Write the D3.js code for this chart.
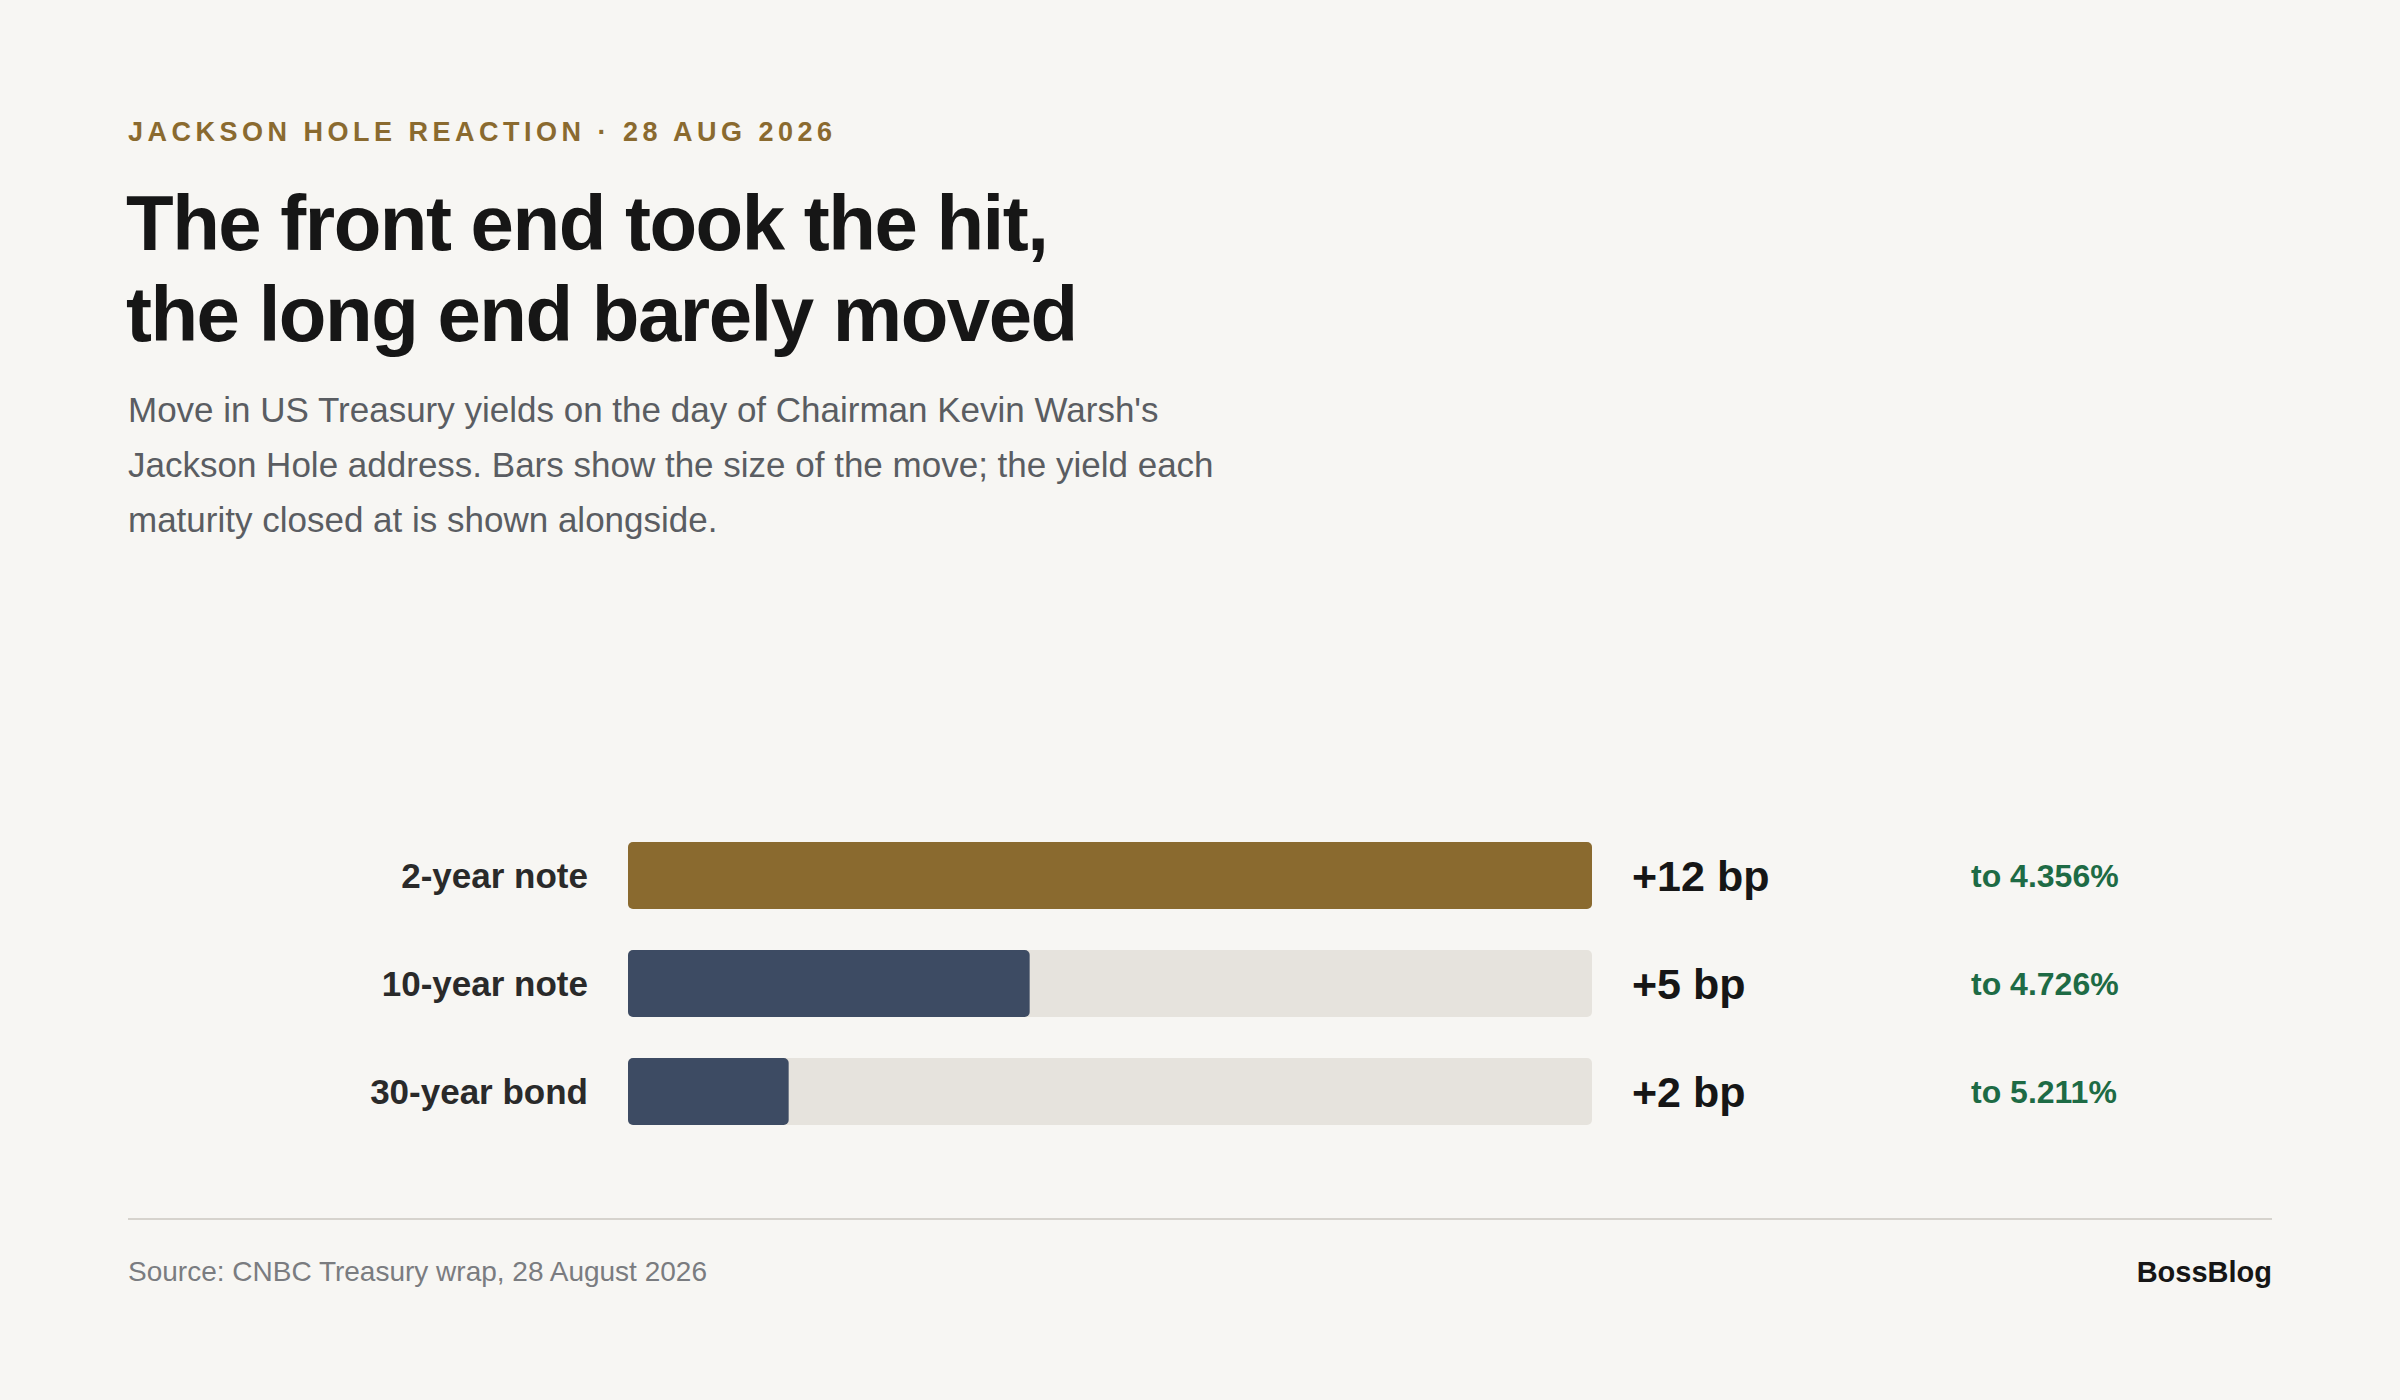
<!DOCTYPE html>
<html>
<head>
<meta charset="utf-8">
<script src="https://cdn.jsdelivr.net/npm/d3@7"></script>
<style>
  html, body { margin: 0; padding: 0; background: #f7f6f3; }
  svg { display: block; font-family: "Liberation Sans", Arial, Helvetica, sans-serif; }
</style>
</head>
<body>
<svg id="chart" width="2400" height="1400"></svg>
<script>
const maturities = ["2-year note", "10-year note", "30-year bond"];
const moveBp = [12, 5, 2];
const closeYield = ["4.356%", "4.726%", "5.211%"];
const barColors = ["#8a6a2f", "#3d4b63", "#3d4b63"];

const svg = d3.select("#chart");
svg.append("rect").attr("width", 2400).attr("height", 1400).attr("fill", "#f7f6f3");

// header
svg.append("text").attr("x", 128).attr("y", 141)
  .attr("font-size", 27).attr("font-weight", 700).attr("letter-spacing", 4.5)
  .attr("fill", "#8a6a2f").text("JACKSON HOLE REACTION · 28 AUG 2026");

const title = ["The front end took the hit,", "the long end barely moved"];
svg.selectAll(".title").data(title).join("text")
  .attr("x", 126).attr("y", (d, i) => 250 + i * 91)
  .attr("font-size", 78).attr("font-weight", 700).attr("letter-spacing", -1.5)
  .attr("fill", "#161616").text(d => d);

const sub = [
  "Move in US Treasury yields on the day of Chairman Kevin Warsh's",
  "Jackson Hole address. Bars show the size of the move; the yield each",
  "maturity closed at is shown alongside."
];
svg.selectAll(".sub").data(sub).join("text")
  .attr("x", 128).attr("y", (d, i) => 422 + i * 55)
  .attr("font-size", 35).attr("fill", "#5a5d62").text(d => d);

// bars
const x = d3.scaleLinear().domain([0, 12]).range([628, 1592]);
const y = d3.scaleBand().domain(maturities).range([842, 1234]).paddingInner(0.38).paddingOuter(0)
  .align(0);
// keep bar height ~67
const bh = 67, step = 108;
const rowY = d => 842 + maturities.indexOf(d) * step;

const rows = svg.selectAll(".row").data(maturities).join("g")
  .attr("transform", d => `translate(0,${rowY(d)})`);

rows.append("rect").attr("x", x(0)).attr("width", x(12) - x(0)).attr("height", bh)
  .attr("rx", 5).attr("fill", "#e6e3dd");
rows.append("rect").attr("x", x(0)).attr("width", (d, i) => x(moveBp[i]) - x(0)).attr("height", bh)
  .attr("rx", 5).attr("fill", (d, i) => barColors[i]);
rows.append("text").attr("x", 588).attr("y", bh / 2).attr("dy", "0.35em")
  .attr("text-anchor", "end").attr("font-size", 35).attr("font-weight", 700)
  .attr("fill", "#2a2a2a").text(d => d);
rows.append("text").attr("x", 1632).attr("y", bh / 2).attr("dy", "0.36em")
  .attr("font-size", 43).attr("font-weight", 700).attr("fill", "#161616")
  .text((d, i) => `+${moveBp[i]} bp`);
rows.append("text").attr("x", 1971).attr("y", bh / 2).attr("dy", "0.36em")
  .attr("font-size", 32).attr("font-weight", 700).attr("fill", "#1e6b45")
  .text((d, i) => `to ${closeYield[i]}`);

// footer
svg.append("line").attr("x1", 128).attr("x2", 2272).attr("y1", 1219).attr("y2", 1219)
  .attr("stroke", "#d6d3cd").attr("stroke-width", 2);
svg.append("text").attr("x", 128).attr("y", 1281).attr("font-size", 28)
  .attr("fill", "#7a7c80").text("Source: CNBC Treasury wrap, 28 August 2026");
svg.append("text").attr("x", 2272).attr("y", 1282).attr("text-anchor", "end")
  .attr("font-size", 29).attr("font-weight", 700).attr("fill", "#161616").text("BossBlog");
</script>
</body>
</html>
